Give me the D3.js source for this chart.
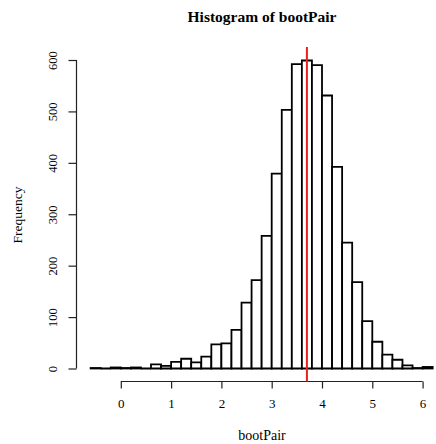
<!DOCTYPE html>
<html>
<script src="https://d3js.org/d3.v7.min.js"></script>
<style>
    body { margin: 0; background: #fff; }
    text { font-family: "Liberation Serif", "DejaVu Serif", serif; fill: #000; }
</style>
<body>
<svg width="436" height="444"></svg>
<script>
// histogram bins: lower edges, width 0.2
var binStarts = [-0.6, -0.4, -0.2, 0.0, 0.2, 0.4, 0.6, 0.8, 1.0, 1.2, 1.4, 1.6, 1.8, 2.0, 2.2, 2.4, 2.6,
                 2.8, 3.0, 3.2, 3.4, 3.6, 3.8, 4.0, 4.2, 4.4, 4.6, 4.8, 5.0, 5.2, 5.4, 5.6, 5.8, 6.0];
var counts = [1, 0, 2, 1, 2, 0, 8, 5, 13, 19, 12, 23, 47, 49, 75, 128, 172,
              258, 379, 503, 592, 599, 590, 531, 392, 245, 168, 92, 52, 27, 17, 6, 1, 3];
var binWidth = 0.2;
var xTicks = [0, 1, 2, 3, 4, 5, 6];
var yTicks = [0, 100, 200, 300, 400, 500, 600];
var meanValue = 3.70;

var svg = d3.select('svg');

var x = d3.scaleLinear().domain([0, 6]).range([120.8, 422.6]);
var y = d3.scaleLinear().domain([0, 600]).range([368.5, 60]);

var bins = binStarts.map(function (s, i) { return { x0: s, n: counts[i] }; });

// bars drawn as closed paths so empty bins still leave a line on the base
svg.append('g').selectAll('path')
    .data(bins)
    .enter()
    .append('path')
    .attr('d', function (d) {
        var a = x(d.x0), b = x(d.x0 + binWidth);
        return 'M' + a + ',' + y(0) + 'V' + y(d.n) + 'H' + b + 'V' + y(0) + 'Z';
    })
    .attr('fill', 'white')
    .attr('stroke', 'black')
    .attr('stroke-width', 1.8);

// x axis
var xAxis = svg.append('g').attr('transform', 'translate(0,381.5)')
    .call(d3.axisBottom(x).tickValues(xTicks).tickSize(7).tickPadding(10).tickFormat(d3.format('d')));
xAxis.select('.domain').attr('stroke', '#222').attr('stroke-width', 1.2)
    .attr('d', 'M' + x(0) + ',0H' + x(6));
xAxis.selectAll('.tick line').attr('stroke', '#222').attr('stroke-width', 1.2);
xAxis.selectAll('.tick text').style('font-size', '13px').style('font-family', '"Liberation Serif", serif');

// y axis
var yAxis = svg.append('g').attr('transform', 'translate(76.5,0)')
    .call(d3.axisLeft(y).tickValues(yTicks).tickSize(8).tickPadding(0).tickFormat(d3.format('d')));
yAxis.select('.domain').attr('stroke', '#222').attr('stroke-width', 1.2)
    .attr('d', 'M0,' + y(0) + 'V' + y(600));
yAxis.selectAll('.tick line').attr('stroke', '#222').attr('stroke-width', 1.2);
yAxis.selectAll('.tick text')
    .attr('x', null).attr('dy', null)
    .attr('transform', 'translate(-20,0) rotate(-90)')
    .attr('text-anchor', 'middle')
    .style('font-size', '12.5px').style('font-family', '"Liberation Serif", serif');

// mean line
svg.append('line')
    .attr('x1', x(meanValue)).attr('x2', x(meanValue))
    .attr('y1', 47).attr('y2', 381.5)
    .attr('stroke', '#e8211e')
    .attr('stroke-width', 2);

// titles
svg.append('text')
    .attr('x', 262).attr('y', 22)
    .attr('text-anchor', 'middle')
    .style('font-size', '15.5px').style('font-weight', 'bold')
    .text('Histogram of bootPair');

svg.append('text')
    .attr('x', 262).attr('y', 440)
    .attr('text-anchor', 'middle')
    .style('font-size', '14px')
    .text('bootPair');

svg.append('text')
    .attr('transform', 'translate(22,215) rotate(-90)')
    .attr('text-anchor', 'middle')
    .style('font-size', '13.5px')
    .text('Frequency');
</script>
</body>
</html>
